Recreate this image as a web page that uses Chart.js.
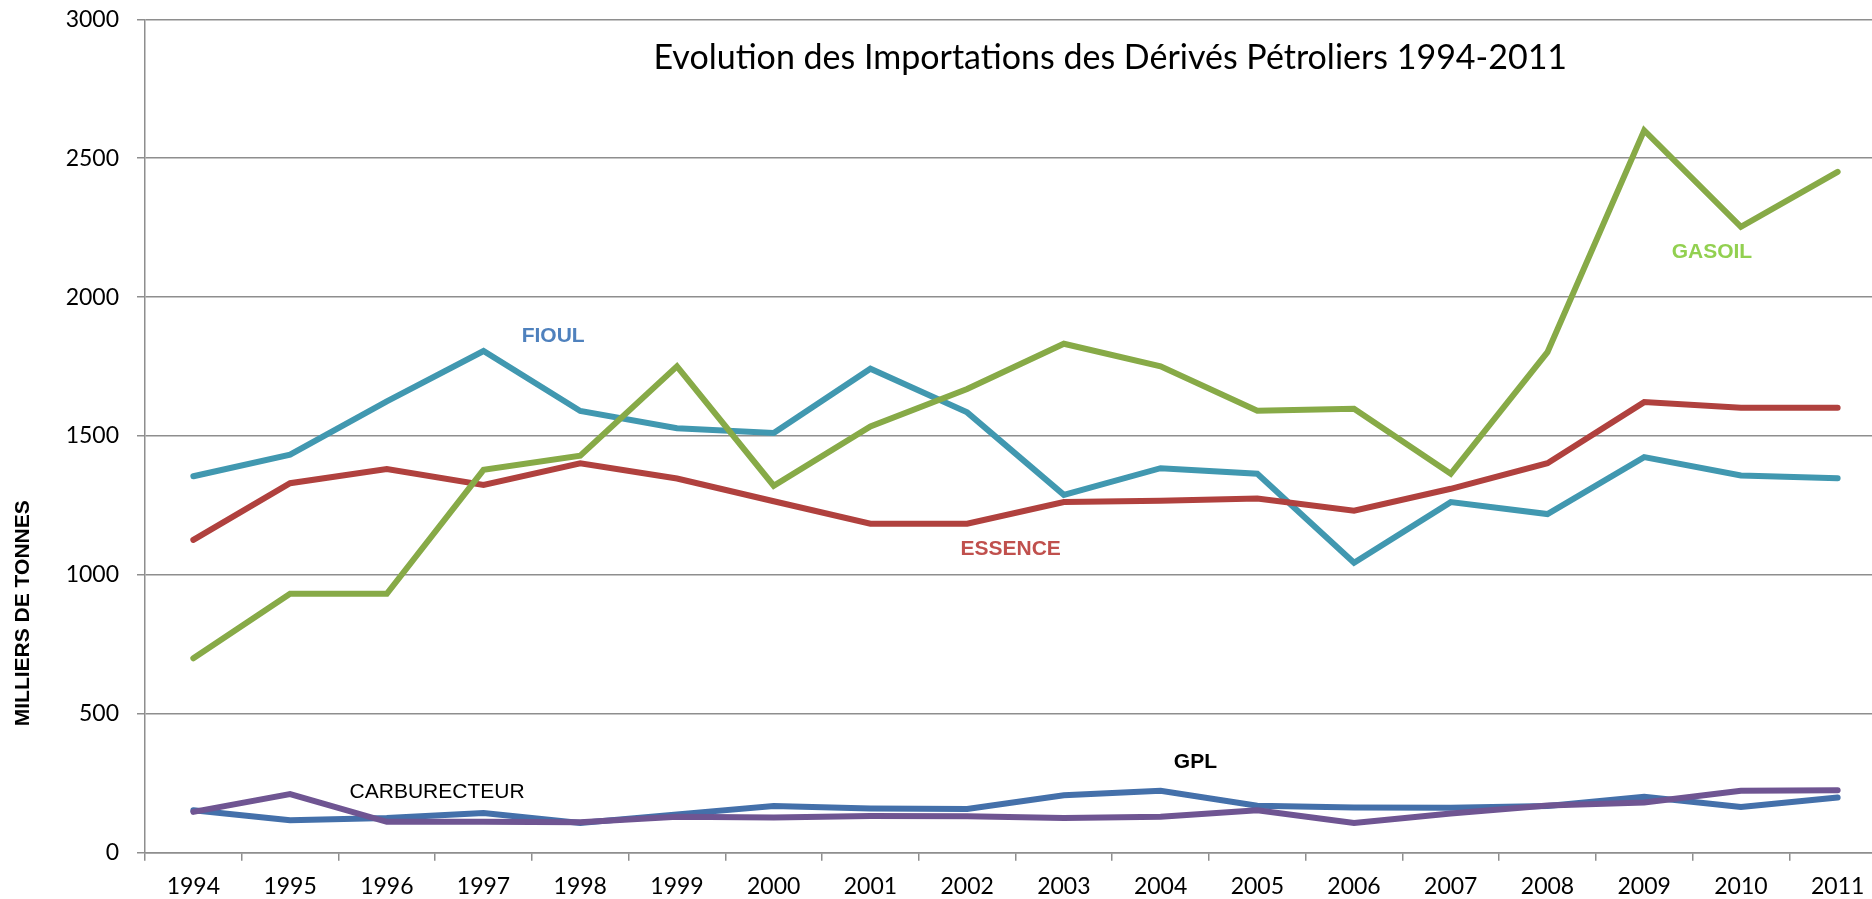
<!DOCTYPE html>
<html>
<head>
<meta charset="utf-8">
<title>Evolution des Importations des Dérivés Pétroliers 1994-2011</title>
<script src="https://cdn.jsdelivr.net/npm/chart.js@4/dist/chart.umd.min.js"></script>
<style>
  html, body { margin: 0; padding: 0; background: #fff; overflow: hidden; }
  .chart-box { width: 1886px; height: 899px; position: relative; }
</style>
</head>
<body>
<div class="chart-box">
  <canvas id="chart"></canvas>
</div>
<script>
// years on the x axis
const years = ['1994', '1995', '1996', '1997', '1998', '1999', '2000', '2001', '2002',
  '2003', '2004', '2005', '2006', '2007', '2008', '2009', '2010', '2011'];

// imports, thousands of tonnes
const fioul = [1355, 1433, 1625, 1806, 1590, 1528, 1511, 1742, 1585,
  1288, 1384, 1364, 1044, 1262, 1219, 1424, 1358, 1348];
const essence = [1126, 1330, 1381, 1324, 1402, 1347, 1265, 1184, 1184,
  1262, 1267, 1275, 1231, 1310, 1402, 1622, 1602, 1602];
const gasoil = [700, 932, 932, 1378, 1429, 1751, 1321, 1534, 1669,
  1832, 1751, 1591, 1598, 1364, 1802, 2600, 2253, 2451];
const gpl = [153, 117, 125, 143, 107, 138, 168, 159, 157,
  207, 223, 169, 163, 162, 168, 201, 165, 199];
const carburecteur = [147, 211, 111, 111, 110, 129, 127, 132, 131,
  125, 129, 153, 107, 141, 170, 181, 223, 225];

const yMax = 3000;
const yStep = 500;

// text drawn inside the plot (x = category index, y = value)
const notes = [
  { text: 'Evolution des Importations des Dérivés Pétroliers 1994-2011', x: 9.48, y: 2862, font: '34px Lato', color: '#000000' },
  { text: 'FIOUL', x: 3.72, y: 1861, font: 'bold 21px "Liberation Sans"', color: '#4F81BD' },
  { text: 'ESSENCE', x: 8.45, y: 1092, font: 'bold 21px "Liberation Sans"', color: '#C0504D' },
  { text: 'GASOIL', x: 15.70, y: 2160, font: 'bold 21px "Liberation Sans"', color: '#92D050' },
  { text: 'GPL', x: 10.36, y: 324, font: 'bold 21px "Liberation Sans"', color: '#000000' },
  { text: 'CARBURECTEUR', x: 2.52, y: 217, font: '21px "Liberation Sans"', color: '#000000' }
];

const notesPlugin = {
  id: 'notes',
  afterDatasetsDraw(chart) {
    const ctx = chart.ctx;
    const xs = chart.scales.x;
    const ys = chart.scales.y;
    ctx.save();
    ctx.textAlign = 'center';
    ctx.textBaseline = 'middle';
    notes.forEach(n => {
      ctx.font = n.font;
      ctx.fillStyle = n.color;
      ctx.fillText(n.text, xs.getPixelForValue(n.x), ys.getPixelForValue(n.y));
    });
    // y axis title, rotated
    ctx.translate(23.5, ys.getPixelForValue(862));
    ctx.rotate(-Math.PI / 2);
    ctx.font = 'bold 21px "Liberation Sans"';
    ctx.fillStyle = '#000000';
    ctx.fillText('MILLIERS DE TONNES', 0, 0);
    ctx.restore();
  }
};

const line = (label, data, color, order) => ({
  label: label,
  data: data,
  borderColor: color,
  backgroundColor: color,
  borderWidth: 6,
  borderCapStyle: 'round',
  borderJoinStyle: 'miter',
  pointRadius: 0,
  pointHoverRadius: 0,
  tension: 0,
  fill: false,
  order: order
});

const gridColor = '#8e8e8e';

new Chart(document.getElementById('chart'), {
  type: 'line',
  data: {
    labels: years,
    datasets: [
      line('FIOUL', fioul, '#4198B0', 5),
      line('ESSENCE', essence, '#B0413E', 4),
      line('GASOIL', gasoil, '#87AA47', 3),
      line('GPL', gpl, '#4470AA', 2),
      line('CARBURECTEUR', carburecteur, '#6F5592', 1)
    ]
  },
  options: {
    responsive: true,
    maintainAspectRatio: false,
    animation: false,
    layout: { padding: { top: 19.3, right: 0, bottom: 0, left: 0 } },
    plugins: {
      legend: { display: false },
      title: { display: false },
      tooltip: { enabled: false }
    },
    scales: {
      x: {
        offset: true,
        grid: {
          offset: true,
          drawOnChartArea: false,
          drawTicks: true,
          tickLength: 8,
          color: gridColor,
          lineWidth: 1.5
        },
        border: { display: true, color: gridColor, width: 1.5 },
        ticks: {
          color: '#000000',
          font: { family: 'Lato', size: 23 },
          padding: 12,
          maxRotation: 0,
          autoSkip: false
        },
        afterFit(scale) {
          scale.height = 46.3;
          scale.paddingLeft = 0;
          scale.paddingRight = 0;
        }
      },
      y: {
        min: 0,
        max: yMax,
        grid: {
          color: gridColor,
          lineWidth: 1.5,
          drawTicks: true,
          tickLength: 8
        },
        border: { display: true, color: gridColor, width: 1.5 },
        ticks: {
          stepSize: yStep,
          color: '#000000',
          font: { family: 'Lato', size: 23 },
          padding: 18,
          callback: v => String(v)
        },
        afterFit(scale) {
          scale.width = 145;
          scale.paddingTop = 0;
          scale.paddingBottom = 0;
        }
      }
    }
  },
  plugins: [notesPlugin]
});
</script>
</body>
</html>
